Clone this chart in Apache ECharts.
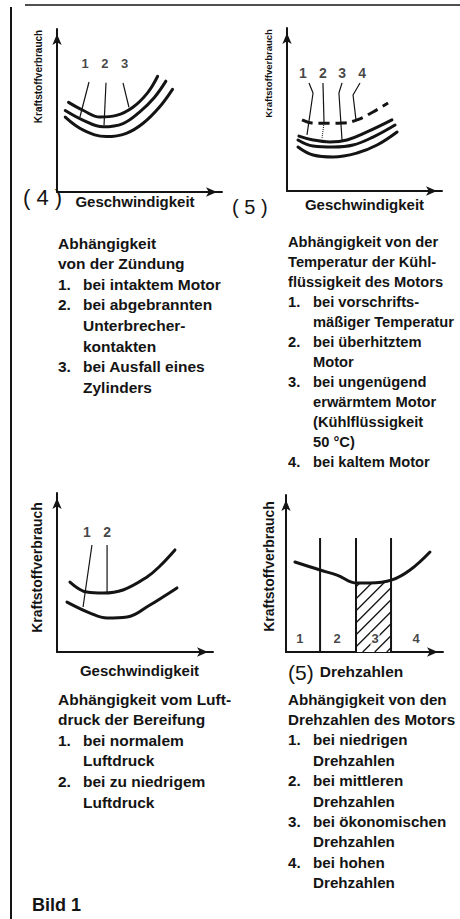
<!DOCTYPE html>
<html><head><meta charset="utf-8">
<script src="https://cdn.jsdelivr.net/npm/echarts@6/dist/echarts.min.js"></script>
<style>html,body{margin:0;padding:0;background:#fff}#c{width:460px;height:919px}</style>
</head><body><div id="c"></div>
<script>
// ---------- DATA (normalised units 0..100 on each axis) ----------
const Y_NAME = 'Kraftstoffverbrauch';
// Panel 1: Zündung
const p1Upper  = [[7,55],[16,50],[26,46],[36,47],[46,52],[55,61],[61,71]];
const p1Middle = [[5,50],[16,44],[28,40],[40,42],[50,49],[59,58],[66,68]];
const p1Lower  = [[5,46],[16,38],[30,34],[42,36],[52,42],[62,52],[70,63]];
const p1Labels = [[17,79,'1'],[29,79,'2'],[41,79,'3']];
const p1Leaders = [[[19.4,67.5],[13.9,46]], [[29.7,67],[28.5,41]], [[40,67],[43.6,52]]];
// Panel 2: Kühlflüssigkeit
const p2Cold   = [[9.7,43.6],[16.1,41.7],[23.2,41.5],[35.5,41.7],[45.2,43.6],[55.5,48.5],[65.2,54]];
const p2Upper  = [[7.7,33.7],[16.8,31.3],[27.7,30.1],[38.7,31.3],[51.6,36.2],[67.7,43.6]];
const p2Middle = [[7.1,31.3],[16.8,27.6],[29.7,27],[42.6,28.2],[55.5,33.1],[69.7,40.5]];
const p2Lower  = [[7.1,27],[16.8,22.1],[29.7,20.9],[45.2,23.3],[58.1,28.2],[71,36.2]];
const p2Labels = [[10.3,72.4,'1'],[23.2,72.4,'2'],[35.5,72.4,'3'],[48.4,72.4,'4']];
const p2Leaders = [[[14.2,66.3],[16.8,60.1],[12.9,34.4]], [[23.2,66.3],[23.9,41.7]], [[35.5,66.3],[33.5,60.1],[35.5,31.3]], [[47.1,66.3],[42.6,58.9],[44.5,43.6]]];
const p2LeaderDotted = [[23.9,41.7],[22.6,32.5]];
// Panel 3: Luftdruck
const p3Upper = [[8.3,44],[19.2,37.7],[29.5,37.1],[42.3,39],[57.7,47.2],[66,54.1],[75.6,64.2]];
const p3Lower = [[6.4,31.4],[21.2,24.5],[32.1,21.4],[44.9,22],[59.6,29.6],[67.9,34.6],[76.9,40.3]];
const p3Labels = [[19.2,75.5,'1'],[32.1,75.5,'2']];
const p3Leaders = [[[22.4,67.3],[16.7,28.3]], [[32.1,67.3],[32.1,37.7]]];
// Panel 4: Drehzahlen
const p4Curve = [[5.7,57.3],[21.7,52.2],[32.5,49],[45.2,43.9],[53.5,43.9],[67.5,45.9],[79,52.2],[91.7,63.7]];
const p4ZoneEdges = [21.7,44.6,66.9];
const p4ZoneTop = 72.6;
const p4EconomicZone = [44.6,66.9];
const p4ZoneLabels = [[8.9,8.3,'1'],[32.5,8.3,'2'],[56.7,8.3,'3'],[82.8,8.3,'4']];
// Texts
const p1Text = [[null,'Abhängigkeit'],[null,'von der Zündung'],['1.','bei intaktem Motor'],['2.','bei abgebrannten'],['','Unterbrecher-'],['','kontakten'],['3.','bei Ausfall eines'],['','Zylinders']];
const p2Text = [[null,'Abhängigkeit von der'],[null,'Temperatur der Kühl-'],[null,'flüssigkeit des Motors'],['1.','bei vorschrifts-'],['','mäßiger Temperatur'],['2.','bei überhitztem'],['','Motor'],['3.','bei ungenügend'],['','erwärmtem Motor'],['','(Kühlflüssigkeit'],['','50 °C)'],['4.','bei kaltem Motor']];
const p3Text = [[null,'Abhängigkeit vom Luft-'],[null,'druck der Bereifung'],['1.','bei normalem'],['','Luftdruck'],['2.','bei zu niedrigem'],['','Luftdruck']];
const p4Text = [[null,'Abhängigkeit von den'],[null,'Drehzahlen des Motors'],['1.','bei niedrigen'],['','Drehzahlen'],['2.','bei mittleren'],['','Drehzahlen'],['3.','bei ökonomischen'],['','Drehzahlen'],['4.','bei hohen'],['','Drehzahlen']];

// ---------- BUILD ----------
const FONT = '"Liberation Sans", Arial, sans-serif';
const INK = '#141414';
const xAxis = [], yAxis = [], series = [], graphic = [];
const grid = [
  {left:57, top:29, width:165, height:163},
  {left:287, top:28, width:155, height:163},
  {left:57, top:493, width:156, height:159},
  {left:286, top:495, width:157, height:157}
];
function axisPair(i, c){
  const line = {show:true, onZero:false, symbol:['none','arrow'], symbolSize:[7,11], symbolOffset:[0,-5], lineStyle:{color:INK, width:2}};
  const base = {gridIndex:i, type:'value', min:0, max:100, axisLine:line, axisTick:{show:false}, axisLabel:{show:false}, splitLine:{show:false}, nameLocation:'middle', silent:true};
  xAxis.push(Object.assign({}, base, {name:c.xName, nameGap:c.xGap, nameTextStyle:{fontFamily:FONT, fontWeight:'bold', fontSize:c.xFont, color:INK, padding:c.xPad}}));
  yAxis.push(Object.assign({}, base, {name:Y_NAME, nameGap:c.yGap, nameRotate:90, nameTextStyle:{fontFamily:FONT, fontWeight:'bold', fontSize:c.yFont, color:INK, padding:[0,0,0,c.yShift*2]}}));
}
axisPair(0, {xName:'Geschwindigkeit', xGap:2, xFont:15, xPad:[0,9,0,0], yGap:14, yFont:10, yShift:34});
axisPair(1, {xName:'Geschwindigkeit', xGap:6, xFont:15, xPad:[0,0,0,0], yGap:14, yFont:9.5, yShift:36});
axisPair(2, {xName:'Geschwindigkeit', xGap:11, xFont:15, xPad:[0,0,0,9], yGap:13, yFont:14, yShift:5});
axisPair(3, {xName:'Drehzahlen', xGap:11, xFont:15.5, xPad:[0,6,0,0], yGap:10, yFont:14, yShift:7});

function curve(i, data, extra){
  series.push({type:'line', xAxisIndex:i, yAxisIndex:i, data:data, smooth:0.4, symbol:'none', silent:true, z:4,
    lineStyle:Object.assign({color:INK, width:3, cap:'round'}, extra||{})});
}
function leader(i, data, extra){
  series.push({type:'line', xAxisIndex:i, yAxisIndex:i, data:data, smooth:false, symbol:'none', silent:true, z:3,
    lineStyle:Object.assign({color:INK, width:1.2}, extra||{})});
}
function labels(i, data, size, bg){
  series.push({type:'scatter', xAxisIndex:i, yAxisIndex:i, data:data, symbolSize:1, silent:true, z:5,
    itemStyle:{color:'rgba(0,0,0,0)'},
    label:{show:true, position:'inside', formatter:function(p){return String(p.value[2]);}, fontFamily:FONT, fontWeight:'bold', fontSize:size, color:INK,
      backgroundColor:bg||'transparent', padding:[0,1]}});
}
// panel 1
[p1Upper,p1Middle,p1Lower].forEach(d=>curve(0,d));
p1Leaders.forEach(d=>leader(0,d));
labels(0,p1Labels,13);
// panel 2
curve(1,p2Cold,{type:[11,6], cap:'butt'});
[p2Upper,p2Middle,p2Lower].forEach(d=>curve(1,d));
p2Leaders.forEach(d=>leader(1,d));
leader(1,p2LeaderDotted,{type:'dotted', width:1});
labels(1,p2Labels,14);
// panel 3
[p3Upper,p3Lower].forEach(d=>curve(2,d));
p3Leaders.forEach(d=>leader(2,d));
labels(2,p3Labels,14);
// panel 4
series.push({type:'custom', xAxisIndex:3, yAxisIndex:3, data:[p4EconomicZone], silent:true, z:2,
  renderItem:function(params, api){
    const pts = p4Curve.map(p=>api.coord(p));
    const L = api.coord([p4EconomicZone[0],0])[0], R = api.coord([p4EconomicZone[1],0])[0], B = api.coord([0,0])[1];
    const topAt = function(x){
      for (let k=0;k<pts.length-1;k++){ const a=pts[k], b=pts[k+1]; if (x>=a[0] && x<=b[0]) return a[1]+(b[1]-a[1])*(x-a[0])/(b[0]-a[0]); }
      return pts[pts.length-1][1];
    };
    const children = [];
    const poly = [[L,B]];
    for (let x=L; x<=R; x+=1) poly.push([x, topAt(x)]);
    poly.push([R, topAt(R)], [R,B]);
    children.push({type:'polygon', shape:{points:poly}, style:{fill:'#fff'}});
    const step = 12;
    for (let x0 = L - (B - topAt(L)) + 4; x0 < R; x0 += step){
      const xs = Math.max(L, x0), ys = B - (xs - x0);
      if (ys < topAt(xs)) continue;
      let xe = xs;
      while (xe + 0.5 <= R && B - (xe + 0.5 - x0) >= topAt(xe + 0.5)) xe += 0.5;
      if (xe - xs < 1) continue;
      children.push({type:'line', shape:{x1:xs, y1:ys, x2:xe, y2:B - (xe - x0)}, style:{stroke:INK, lineWidth:1.3}});
    }
    return {type:'group', children:children};
  }});
p4ZoneEdges.forEach(e=>leader(3, [[e,0],[e,p4ZoneTop]], {width:2}));
curve(3,p4Curve);
labels(3,p4ZoneLabels,13,'#fff');

// ---------- TEXT ----------
function txt(x, y, s, font){
  graphic.push({type:'text', x:x, y:y, silent:true, style:{text:s, font:font, fill:INK, verticalAlign:'middle', align:'left'}});
}
function textBlock(lines, numX, textX, y0, step, size){
  const font = 'bold ' + size + 'px ' + FONT;
  lines.forEach(function(ln, k){
    const y = y0 + k*step;
    if (ln[0]) txt(numX, y, ln[0], font);
    txt(ln[0] === null ? numX : textX, y, ln[1], font);
  });
}
textBlock(p1Text, 58, 83, 243, 20.6, 15.5);
textBlock(p2Text, 288, 313, 242, 20, 14.7);
textBlock(p3Text, 58, 83, 699, 20.6, 15.5);
textBlock(p4Text, 288, 313, 699, 20.4, 15.2);
txt(23, 197, '( 4 )', '22px ' + FONT);
txt(232, 207, '( 5 )', '20px ' + FONT);
txt(288, 672, '(5)', '21px ' + FONT);
txt(32, 905, 'Bild 1', 'bold 18px ' + FONT);
graphic.push({type:'line', silent:true, shape:{x1:25, y1:5, x2:460, y2:5}, style:{stroke:INK, lineWidth:1.5}});
graphic.push({type:'line', silent:true, shape:{x1:11, y1:7, x2:11, y2:919}, style:{stroke:INK, lineWidth:2}});

const chart = echarts.init(document.getElementById('c'), null, {renderer:'svg', width:460, height:919});
chart.setOption({animation:false, backgroundColor:'#fff', grid:grid, xAxis:xAxis, yAxis:yAxis, series:series, graphic:graphic});
</script></body></html>
